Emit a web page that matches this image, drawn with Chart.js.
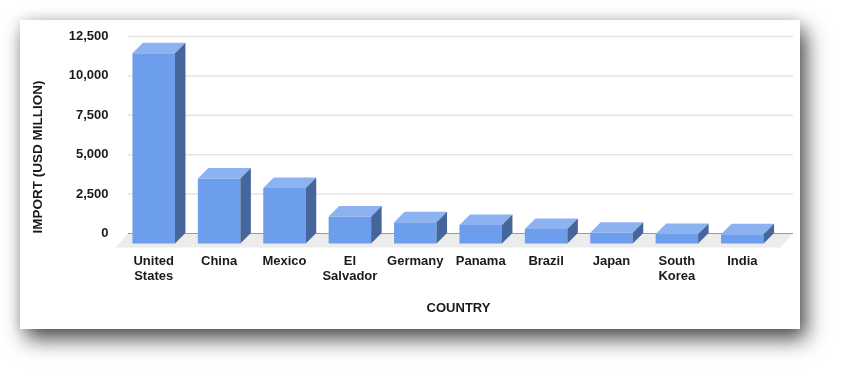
<!DOCTYPE html>
<html>
<head>
<meta charset="utf-8">
<script src="https://cdn.jsdelivr.net/npm/chart.js@4.4.1/dist/chart.umd.min.js"></script>
<style>
  html, body { margin: 0; padding: 0; background: #fff; }
  body { width: 848px; height: 378px; position: relative; overflow: hidden; }
  #card {
    position: absolute; left: 20px; top: 20px; width: 780px; height: 309px;
    background: #fff;
    box-shadow: 6px 10px 20px rgba(0, 0, 0, 0.7), 0 0 12px rgba(0, 0, 0, 0.12);
  }
</style>
</head>
<body>
<div id="card"><canvas id="myChart" width="780" height="309"></canvas></div>
<script>
// Dados do gráfico
const countries = [
  ["United", "States"], "China", "Mexico", ["El", "Salvador"], "Germany",
  "Panama", "Brazil", "Japan", ["South", "Korea"], "India"
];
const imports = [12100, 4150, 3550, 1750, 1380, 1210, 950, 710, 630, 620];
const yTicks = [0, 2500, 5000, 7500, 10000, 12500];

// Deslocamento da face frontal (efeito 3D)
const DX = 10.5;
const DY = 10.5;
// Profundidade do "chão"
const FX = 12.5;
const FY = 14;

const FRONT = "#6d9eeb";
const TOP = "#8cb2f1";
const SIDE = "#46669b";

const bars3d = {
  id: "bars3d",
  beforeDatasetsDraw(chart) {
    const { ctx, chartArea: a, scales: { y } } = chart;
    const x0 = a.left - 3.5;
    const x1 = a.right + 7.5;
    ctx.save();
    // linhas de grade
    ctx.strokeStyle = "#e4e4e4";
    ctx.lineWidth = 1.5;
    yTicks.forEach((v) => {
      if (v === 0) return;
      const py = y.getPixelForValue(v);
      ctx.beginPath();
      ctx.moveTo(x0, py);
      ctx.lineTo(x1, py);
      ctx.stroke();
    });
    // chão
    const by = y.getPixelForValue(0);
    ctx.fillStyle = "#ececec";
    ctx.beginPath();
    ctx.moveTo(x0, by);
    ctx.lineTo(x1, by);
    ctx.lineTo(x1 - FX, by + FY);
    ctx.lineTo(x0 - FX, by + FY);
    ctx.closePath();
    ctx.fill();
    // linha de base
    ctx.strokeStyle = "#9a9a9a";
    ctx.lineWidth = 1;
    ctx.beginPath();
    ctx.moveTo(x0, by);
    ctx.lineTo(x1, by);
    ctx.stroke();
    ctx.restore();
    // barras frontais deslocadas
    ctx.save();
    ctx.translate(-DX, DY);
  },
  afterDatasetsDraw(chart) {
    const { ctx } = chart;
    ctx.restore();
    const meta = chart.getDatasetMeta(0);
    ctx.save();
    meta.data.forEach((bar) => {
      const { x, y, base, width } = bar.getProps(["x", "y", "base", "width"], true);
      const fl = x - width / 2 - DX;
      const fr = x + width / 2 - DX;
      const ft = y + DY;
      const fb = base + DY;
      // topo
      ctx.fillStyle = TOP;
      ctx.beginPath();
      ctx.moveTo(fl, ft);
      ctx.lineTo(fr, ft);
      ctx.lineTo(fr + DX, ft - DY);
      ctx.lineTo(fl + DX, ft - DY);
      ctx.closePath();
      ctx.fill();
      // lado
      ctx.fillStyle = SIDE;
      ctx.beginPath();
      ctx.moveTo(fr, ft);
      ctx.lineTo(fr + DX, ft - DY);
      ctx.lineTo(fr + DX, fb - DY);
      ctx.lineTo(fr, fb);
      ctx.closePath();
      ctx.fill();
    });
    ctx.restore();
  },
};

const fontBold = { family: "'Liberation Sans', Arial, sans-serif", size: 13, weight: "bold" };

const config = {
  type: "bar",
  data: {
    labels: countries,
    datasets: [
      {
        label: "Import",
        data: imports,
        backgroundColor: FRONT,
        borderWidth: 0,
        barPercentage: 0.65,
        categoryPercentage: 1,
        clip: false,
      },
    ],
  },
  options: {
    responsive: false,
    animation: false,
    layout: { padding: { left: 0, right: 14.5, top: 16.5, bottom: 0 } },
    plugins: { legend: { display: false }, tooltip: { enabled: false } },
    scales: {
      x: {
        grid: { display: false, drawTicks: false },
        border: { display: false },
        ticks: {
          color: "#1a1a1a",
          font: { ...fontBold, lineHeight: 1.1 },
          padding: 21,
          labelOffset: -DX,
          maxRotation: 0,
          autoSkip: false,
        },
        title: {
          display: true,
          text: "COUNTRY",
          color: "#1a1a1a",
          font: fontBold,
          padding: { top: 0, bottom: 13 },
        },
        afterFit(scale) {
          scale.height = 95.5;
        },
      },
      y: {
        min: 0,
        max: 12500,
        // grade desenhada pelo plugin; o tickLength só afasta os rótulos
        grid: {
          display: true,
          drawOnChartArea: false,
          drawTicks: true,
          tickLength: 23,
          color: "rgba(0,0,0,0)",
          tickColor: "rgba(0,0,0,0)",
        },
        border: { display: false },
        afterBuildTicks(scale) {
          scale.ticks = yTicks.map((v) => ({ value: v }));
        },
        ticks: {
          color: "#1a1a1a",
          font: fontBold,
          padding: 0,
          callback: (v) => v.toLocaleString("en-US"),
        },
        title: {
          display: true,
          text: "IMPORT (USD MILLION)",
          align: "start",
          color: "#1a1a1a",
          font: { ...fontBold, size: 13.5 },
          padding: { top: 10, bottom: 0 },
        },
        afterFit(scale) {
          scale.width = 111.5;
        },
      },
    },
  },
  plugins: [bars3d],
};

const ctx = document.getElementById("myChart").getContext("2d");
new Chart(ctx, config);
</script>
</body>
</html>
